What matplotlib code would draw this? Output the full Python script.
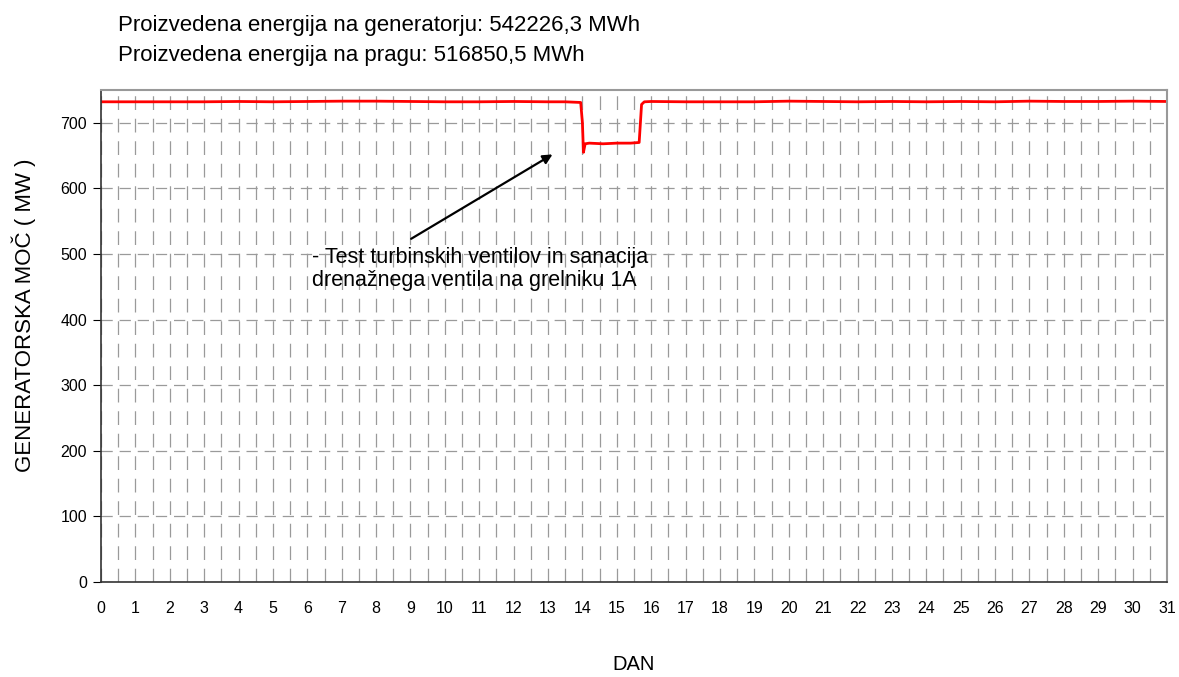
import matplotlib.pyplot as plt
from matplotlib.ticker import MultipleLocator

plt.rcParams['font.family'] = ['Liberation Sans', 'DejaVu Sans']

# generator power over the month (day, MW)
days = [0, 1, 2, 3, 4, 5, 6, 7, 8, 9, 10, 11, 12, 13, 13.5, 13.95,
        14.0, 14.03, 14.08, 14.2, 14.6, 15.0, 15.4, 15.65, 15.72, 15.8,
        16, 17, 18, 19, 20, 21, 22, 23, 24, 25, 26, 27, 28, 29, 30, 31]
power = [732, 732, 732, 732, 732.5, 732, 732.5, 733, 733, 732.5, 732, 732, 732.5, 732, 732, 731,
         700, 655, 668, 669, 668, 669, 669, 670, 728, 732,
         732.5, 732, 732, 732, 733, 732.5, 732, 732.5, 732, 732.5, 732, 733, 732.5, 732.5, 733, 732.5]

header = ["Proizvedena energija na generatorju: 542226,3 MWh",
          "Proizvedena energija na pragu: 516850,5 MWh"]
note = "- Test turbinskih ventilov in sanacija\ndrenažnega ventila na grelniku 1A"

fig = plt.figure(figsize=(11.79, 6.77), dpi=100)
ax = fig.add_axes([101/1179, 1 - 582/677, (1167-101)/1179, (582-90)/677])

ax.plot(days, power, color='#ff0000', lw=2)

ax.set_xlim(0, 31)
ax.set_ylim(0, 750)
ax.xaxis.set_major_locator(MultipleLocator(1))
ax.xaxis.set_minor_locator(MultipleLocator(0.5))
ax.yaxis.set_major_locator(MultipleLocator(100))
ax.grid(which='both', axis='x', color='#9a9a9a', ls=(0, (11, 7)), lw=0.9)
ax.grid(which='major', axis='y', color='#9a9a9a', ls=(0, (9, 5.5)), lw=0.9)
ax.tick_params(axis='x', which='both', length=0, labelsize=11.5, pad=14)
ax.tick_params(axis='y', length=6, labelsize=11.5, pad=4)

for s in ['top', 'right']:
    ax.spines[s].set_color('#999999')
    ax.spines[s].set_linewidth(1.5)
for s in ['left', 'bottom']:
    ax.spines[s].set_color('#333333')
    ax.spines[s].set_linewidth(1.2)

fig.text(24/1179, 1 - 315/677, "GENERATORSKA MOČ ( MW )", fontsize=16,
         rotation=90, ha='center', va='center')
fig.text(634/1179, 1 - 665/677, "DAN", fontsize=14.5, ha='center', va='center')

fig.text(118/1179, 1 - 26/677, header[0], fontsize=16, va='center')
fig.text(118/1179, 1 - 55/677, header[1], fontsize=16, va='center')

ax.annotate("", xy=(13.2, 654), xytext=(8.95, 521),
            arrowprops=dict(arrowstyle='-|>', color='black', lw=1.6, mutation_scale=14))
ax.text(6.15, 510, note, fontsize=15.5, va='top', ha='left', linespacing=1.1)

fig.savefig("out.png", dpi=100)
